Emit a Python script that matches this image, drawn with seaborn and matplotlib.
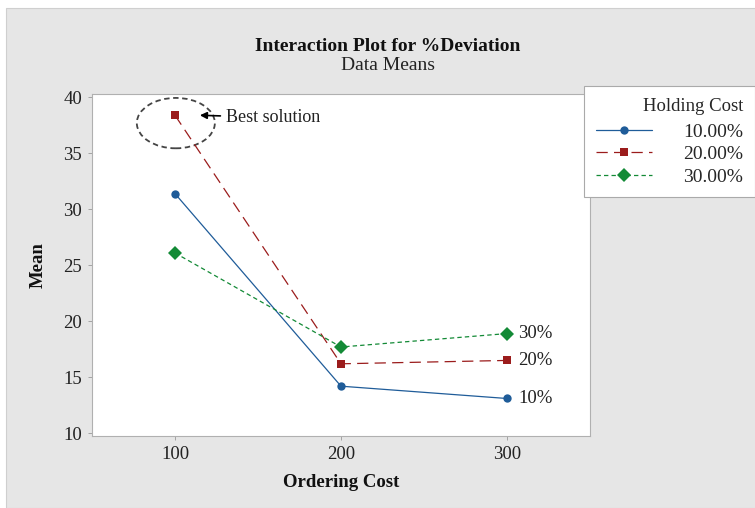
import matplotlib
matplotlib.use("Agg")
import matplotlib.pyplot as plt
from matplotlib.patches import Ellipse, Rectangle
import seaborn as sns
import pandas as pd

ordering_cost = [100, 200, 300]
holding_levels = ["10.00%", "20.00%", "30.00%"]
mean_10 = [31.4, 14.2, 13.1]
mean_20 = [38.4, 16.2, 16.5]
mean_30 = [26.1, 17.7, 18.9]
end_labels = ["10%", "20%", "30%"]
y_ticks = [10, 15, 20, 25, 30, 35, 40]
x_ticks = [100, 200, 300]

rows = []
for lvl, vals in zip(holding_levels, [mean_10, mean_20, mean_30]):
    for x, v in zip(ordering_cost, vals):
        rows.append({"Ordering Cost": x, "Mean": v, "Holding Cost": lvl})
df = pd.DataFrame(rows)

sns.set_theme(style="white")
plt.rcParams["font.family"] = ["Liberation Serif", "DejaVu Serif"]

fig = plt.figure(figsize=(7.55, 5.08), dpi=100, facecolor="white")
fig.patches.append(Rectangle((6 / 755, 0), 1, 1 - 8 / 508, transform=fig.transFigure,
                             facecolor="#e6e6e6", edgecolor="#cfcfcf", lw=0.8, zorder=-10))
ax = fig.add_axes([92 / 755, 1 - 436 / 508, (590 - 92) / 755, (436 - 94) / 508])
ax.set_facecolor("white")

palette = {"10.00%": "#1f5c99", "20.00%": "#9b1c1c", "30.00%": "#138a36"}
markers = {"10.00%": "o", "20.00%": "s", "30.00%": "D"}
dashes = {"10.00%": "", "20.00%": (9, 5), "30.00%": (3.5, 2.5)}

sns.lineplot(data=df, x="Ordering Cost", y="Mean", hue="Holding Cost", style="Holding Cost",
             palette=palette, markers=markers, dashes=dashes, linewidth=0.9,
             markersize=6, markeredgewidth=0, ax=ax)

for line in ax.get_lines():
    if line.get_marker() == "D":
        line.set_markersize(7)

ax.set_xlim(50, 350)
ax.set_ylim(9.75, 40.3)
ax.set_xticks(x_ticks)
ax.set_yticks(y_ticks)
ax.tick_params(axis="both", labelsize=13.5, length=3, width=0.6, color="#999999",
               direction="out", bottom=True, left=True, pad=4, labelcolor="#222222")
for s in ax.spines.values():
    s.set_color("#b0b0b0")
    s.set_linewidth(0.8)

ax.set_xlabel("Ordering Cost", fontsize=13.5, fontweight="bold", labelpad=8, color="#111111")
ax.set_ylabel("Mean", fontsize=13.5, fontweight="bold", labelpad=12, color="#111111")

# end labels
last_vals = [mean_10[-1], mean_20[-1], mean_30[-1]]
for lab, v in zip(end_labels, last_vals):
    ax.annotate(lab, xy=(ordering_cost[-1], v), xytext=(8, 0), textcoords="offset points",
                ha="left", va="center", fontsize=13.5, color="#222222")

# best solution annotation
ax.add_patch(Ellipse((100.5, 37.7), 47, 4.5, fill=False, ls=(0, (3, 2)), lw=1.3,
                     edgecolor="#444444"))
ax.annotate("Best solution", xy=(115, mean_20[0]), xytext=(131, mean_20[0] - 0.2),
            ha="left", va="center", fontsize=13, color="#222222",
            arrowprops=dict(arrowstyle="-|>", color="black", lw=1.2, mutation_scale=10,
                            shrinkA=2, shrinkB=0))

# legend
handles, labels = ax.get_legend_handles_labels()
ax.get_legend().remove()
leg = fig.legend(handles, labels, title="Holding Cost", loc="upper left",
                 bbox_to_anchor=(584 / 755, 1 - 86 / 508), fontsize=14, title_fontsize=13.5,
                 frameon=True, fancybox=False, edgecolor="#aaaaaa", framealpha=1,
                 handlelength=2.9, alignment="right", borderpad=0.6, borderaxespad=0,
                 labelspacing=0.25, handletextpad=1.6)
leg.get_frame().set_linewidth(0.8)
leg._legend_box.sep = 6

fig.text(0.514, 1 - 46 / 508, "Interaction Plot for %Deviation", ha="center", va="center",
         fontsize=14, fontweight="bold", color="#111111")
fig.text(0.514, 1 - 66 / 508, "Data Means", ha="center", va="center", fontsize=14,
         color="#222222")

fig.savefig("out.png", dpi=100, facecolor=fig.get_facecolor())
